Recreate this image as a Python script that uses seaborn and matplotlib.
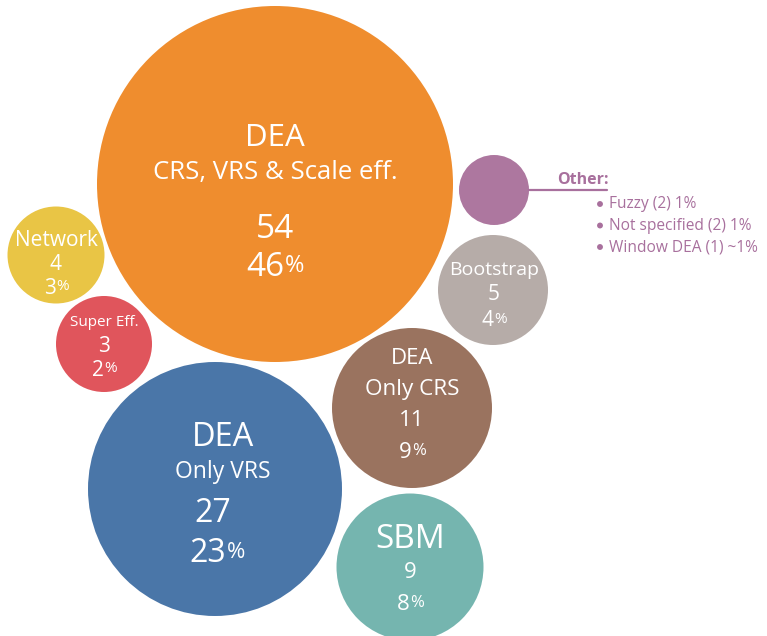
import matplotlib
matplotlib.use("Agg")
import matplotlib.pyplot as plt
import seaborn as sns
import pandas as pd

# --- data ---
labels = ["DEA\nCRS, VRS & Scale eff.", "DEA\nOnly VRS", "DEA\nOnly CRS", "SBM",
          "Bootstrap", "Other", "Network", "Super Eff."]
counts = [54, 27, 11, 9, 5, 5, 4, 3]
shares = [46, 23, 9, 8, 4, 4, 3, 2]
# bubble layout (chart units) and bubble radius
bx = [275, 215, 412, 410, 493, 494, 56, 104]
by = [184, 489, 408, 567, 290, 190, 255, 344]
br = [178, 127, 80, 73.5, 55, 35, 48.5, 48]
colors = ["#EF8D2E", "#4A76A8", "#9A735F", "#75B5AF", "#B6ACA8", "#AD779F", "#E9C545", "#E0555C"]

other_items = ["Fuzzy (2) 1%", "Not specified (2) 1%", "Window DEA (1) ~1%"]

W, H, DPI = 767, 636, 100
sns.set_theme(style="white")
plt.rcParams["font.family"] = ["Open Sans", "DejaVu Sans"]

df = pd.DataFrame({"label": labels, "x": bx, "y": by, "r": br})
df["s"] = (2 * df["r"] * 72 / DPI) ** 2

fig = plt.figure(figsize=(W / DPI, H / DPI), dpi=DPI)
ax = fig.add_axes([0, 0, 1, 1])
sns.scatterplot(data=df, x="x", y="y", hue="label", palette=colors, s=df["s"].values,
                edgecolor="none", linewidth=0, legend=False, ax=ax, alpha=1)
ax.set_xlim(0, W)
ax.set_ylim(H, 0)
ax.set_axis_off()


def pct(cx, cy, value, size, psize):
    # number followed by a smaller percent sign, centred as a pair
    shift = psize * 0.42
    t = ax.annotate(str(value), xy=(cx, cy), xytext=(-shift, 0), textcoords="offset points",
                    ha="center", va="center", color="white", fontsize=size)
    ax.annotate("%", xy=(1, 0), xycoords=t, xytext=(0.5, size * 0.2), textcoords="offset points",
                ha="left", va="bottom", color="white", fontsize=psize)


def txt(cx, cy, s, size, **kw):
    ax.text(cx, cy, s, ha="center", va="center", color="white", fontsize=size, **kw)


# DEA CRS, VRS & Scale
txt(275, 138, "DEA", 22.5)
txt(275, 173, "CRS, VRS & Scale eff.", 18.5)
txt(275, 230, str(counts[0]), 24)
pct(275, 268, shares[0], 24, 17)

# DEA only VRS
txt(223, 437, "DEA", 23.5)
txt(223, 472, "Only VRS", 16.5)
txt(213, 513, str(counts[1]), 23)
pct(217, 553, shares[1], 23, 16)

# DEA only CRS
txt(412, 358, "DEA", 16)
txt(412, 389, "Only CRS", 16.2)
txt(412, 420, str(counts[2]), 16)
pct(412, 453, shares[2], 16, 12)

# SBM
txt(410, 540, "SBM", 24)
txt(410, 573, str(counts[3]), 16)
pct(410, 605, shares[3], 16, 12)

# Bootstrap
txt(494, 270, "Bootstrap", 14)
txt(494, 295, str(counts[4]), 15)
pct(494, 321, shares[4], 15, 11)

# Network
txt(56, 240, "Network", 15)
txt(56, 265, str(counts[6]), 15)
pct(56, 288, shares[6], 15, 11)

# Super Eff.
txt(104, 323, "Super Eff.", 11)
txt(104, 347, str(counts[7]), 15)
pct(104, 370, shares[7], 15, 11)

# Other callout
purple = "#A8709D"
ax.plot([529, 607], [190, 190], color=purple, lw=1.6)
ax.text(557, 184, "Other:", color=purple, fontsize=11.5, fontweight="bold", ha="left", va="baseline")
for i, item in enumerate(other_items):
    yy = 204 + i * 21.5
    ax.scatter([600], [yy], s=18, color=purple, edgecolor="none")
    ax.text(609, yy, item, color=purple, fontsize=11.2, ha="left", va="center")

fig.savefig("out.png", dpi=DPI, facecolor="white")
